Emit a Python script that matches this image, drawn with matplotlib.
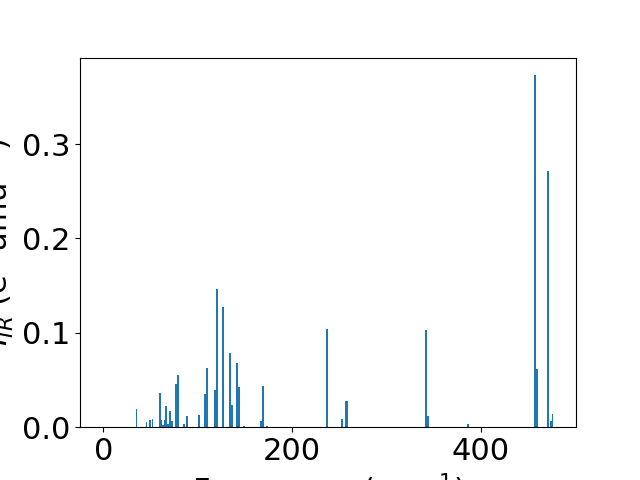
import matplotlib
matplotlib.use("Agg")
import matplotlib.pyplot as plt

freqs = [0.0, 35.0, 45.6, 49.0, 52.0, 59.5, 61.2, 63.0, 65.0, 66.5, 68.5, 70.8, 73.0,
         77.0, 79.0, 85.0, 88.5, 100.8, 107.5, 109.5, 118.0, 120.5, 127.0, 134.0,
         136.5, 141.8, 143.5, 148.5, 167.0, 169.0, 173.0, 236.6, 252.6, 256.5,
         258.5, 341.6, 343.7, 386.0, 457.3, 459.5, 471.0, 474.7, 476.0]
intensities = [0.0, 0.019, 0.005, 0.0074, 0.0085, 0.036, 0.0074, 0.002, 0.0074, 0.022,
               0.003, 0.017, 0.0064, 0.046, 0.055, 0.003, 0.012, 0.0127, 0.035,
               0.0626, 0.039, 0.1465, 0.127, 0.0785, 0.0233, 0.068, 0.0424, 0.001,
               0.0064, 0.0435, 0.001, 0.104, 0.0085, 0.0276, 0.0276, 0.103, 0.0117,
               0.003, 0.373, 0.0615, 0.2715, 0.0064, 0.0138]

plt.rcParams['font.size'] = 22
fig, ax = plt.subplots(figsize=(6.4, 4.8), dpi=100)
ax.bar(freqs, intensities, width=2.0, color='#1f77b4')
ax.set_xlabel('Frequency (cm$^{-1}$)')
ax.set_ylabel('$I_{IR}$ (e$^2$ amu$^{-1}$)')
fig.savefig('out.png', dpi=100)
